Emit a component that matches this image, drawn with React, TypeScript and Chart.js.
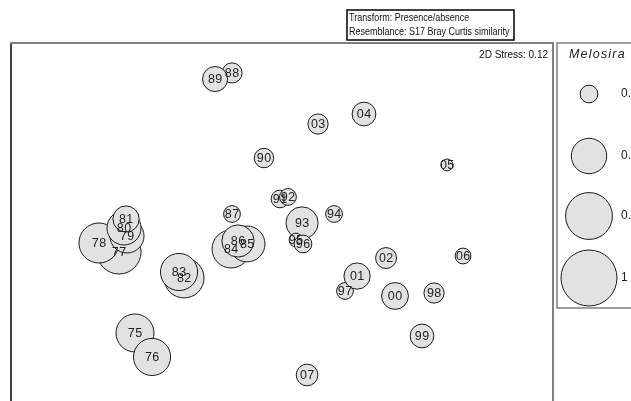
import React, { useEffect, useRef } from "react";
import { Chart, registerables } from "chart.js";

Chart.register(...registerables);

// Sample years (labels of each bubble), in plotting order
const years = ["75","76","77","78","79","80","81","82","83","84","85","86","87","88","89","90","91","92","93","94","95","96","97","98","99","00","01","02","03","04","05","06","07"];
// nMDS coordinates (dimension 1, dimension 2)
const mdsX = [-1.085,-0.959,-1.203,-1.351,-1.144,-1.166,-1.151,-0.723,-0.760,-0.376,-0.258,-0.325,-0.369,-0.369,-0.494,-0.133,-0.015,0.044,0.148,0.384,0.103,0.155,0.465,1.122,1.033,0.834,0.554,0.768,0.266,0.605,1.218,1.336,0.185];
const mdsY = [-0.819,-0.996,-0.221,-0.155,-0.103,-0.044,0.022,-0.413,-0.369,-0.199,-0.162,-0.140,0.059,1.100,1.055,0.472,0.170,0.185,-0.007,0.059,-0.133,-0.162,-0.509,-0.524,-0.841,-0.546,-0.399,-0.266,0.723,0.797,0.421,-0.251,-1.129];
// Melosira abundance (bubble overlay variable)
const melosira = [0.46,0.44,0.62,0.51,0.37,0.37,0.22,0.51,0.44,0.46,0.41,0.33,0.09,0.13,0.20,0.12,0.10,0.09,0.33,0.09,0.06,0.10,0.09,0.13,0.18,0.23,0.22,0.14,0.13,0.18,0.045,0.08,0.15];
// Legend key values
const legendValues = [0.1, 0.4, 0.7, 1];
const legendLabels = ["0.1", "0.4", "0.7", "1"];

const titleLines = ["Transform: Presence/absence", "Resemblance: S17 Bray Curtis similarity"];
const stressText = "2D Stress: 0.12";
const overlayName = "Melosira";

const MAX_R = 28;
const bubbleRadius = (v: number) => MAX_R * Math.sqrt(v);
const FONT = '"Liberation Sans", Arial, sans-serif';

export default function App() {
  const ref = useRef<HTMLCanvasElement | null>(null);
  useEffect(() => {
    const canvas = ref.current;
    if (!canvas) return;

    const decor = {
      id: "decor",
      beforeDatasetsDraw(chart: any) {
        const { ctx, chartArea } = chart;
        ctx.save();
        // plot frame
        ctx.strokeStyle = "#000";
        ctx.lineWidth = 1.5;
        ctx.beginPath();
        ctx.moveTo(chartArea.left, chartArea.top);
        ctx.lineTo(chartArea.left, chart.height + 5);
        ctx.stroke();
        ctx.strokeStyle = "#808080";
        ctx.lineWidth = 2;
        ctx.beginPath();
        ctx.moveTo(chartArea.left - 0.75, chartArea.top);
        ctx.lineTo(chartArea.right, chartArea.top);
        ctx.lineTo(chartArea.right, chart.height + 5);
        ctx.stroke();
        ctx.restore();
      },
      afterDatasetsDraw(chart: any) {
        const { ctx } = chart;
        const meta = chart.getDatasetMeta(0);
        ctx.save();
        ctx.font = `12.5px ${FONT}`;
        ctx.fillStyle = "#222";
        ctx.textAlign = "center";
        ctx.textBaseline = "middle";
        (ctx as any).letterSpacing = "0.4px";
        meta.data.forEach((el: any, i: number) => {
          ctx.fillText(years[i], el.x + 0.2, el.y + 0.5);
        });
        ctx.restore();
      },
      afterDraw(chart: any) {
        const { ctx, chartArea } = chart;
        ctx.save();
        // title box
        ctx.strokeStyle = "#000";
        ctx.lineWidth = 1.5;
        ctx.strokeRect(347, 10, 167, 30);
        ctx.fillStyle = "#111";
        ctx.font = `10px ${FONT}`;
        ctx.textAlign = "left";
        ctx.textBaseline = "middle";
        ctx.save();
        ctx.translate(349, 0);
        ctx.scale(0.9, 1);
        ctx.fillText(titleLines[0], 0, 18);
        ctx.fillText(titleLines[1], 0, 32);
        ctx.restore();
        // stress
        ctx.textAlign = "right";
        ctx.font = `10px ${FONT}`;
        ctx.fillText(stressText, chartArea.right - 5, 55);
        // legend box
        ctx.strokeStyle = "#808080";
        ctx.lineWidth = 1.5;
        ctx.strokeRect(557, chartArea.top, 120, 265);
        ctx.fillStyle = "#222";
        ctx.textAlign = "left";
        ctx.font = `italic 12.5px ${FONT}`;
        (ctx as any).letterSpacing = "1.2px";
        ctx.fillText(overlayName, 569, 55);
        (ctx as any).letterSpacing = "0px";
        const cy = [94, 156, 216, 278];
        legendValues.forEach((v, i) => {
          ctx.beginPath();
          ctx.arc(589, cy[i], bubbleRadius(v), 0, Math.PI * 2);
          ctx.fillStyle = "#e2e2e2";
          ctx.fill();
          ctx.strokeStyle = "#1a1a1a";
          ctx.lineWidth = 1;
          ctx.stroke();
          ctx.fillStyle = "#222";
          ctx.font = `12px ${FONT}`;
          ctx.fillText(legendLabels[i], 621, cy[i]);
        });
        ctx.restore();
      },
    };

    const chart = new Chart(canvas, {
      type: "bubble",
      data: {
        datasets: [
          {
            data: years.map((_, i) => ({ x: mdsX[i], y: mdsY[i], r: bubbleRadius(melosira[i]) })),
            backgroundColor: "#e2e2e2",
            borderColor: "#1a1a1a",
            borderWidth: 1,
            hoverRadius: 0,
            clip: false as any,
          },
        ],
      },
      options: {
        animation: false,
        responsive: false,
        devicePixelRatio: 1,
        events: [],
        layout: { autoPadding: false, padding: { left: 11, top: 43, right: 78, bottom: 0 } },
        scales: {
          x: { type: "linear", display: false, min: -2, max: 2 },
          y: { type: "linear", display: false, min: -1.321, max: 1.321 },
        },
        plugins: { legend: { display: false }, tooltip: { enabled: false } },
      },
      plugins: [decor],
    });
    return () => chart.destroy();
  }, []);

  return (
    <div style={{ position: "fixed", left: 0, top: 0, width: 631, height: 401, background: "#fff" }}>
      <canvas ref={ref} width={631} height={401} style={{ width: 631, height: 401, display: "block" }} />
    </div>
  );
}
